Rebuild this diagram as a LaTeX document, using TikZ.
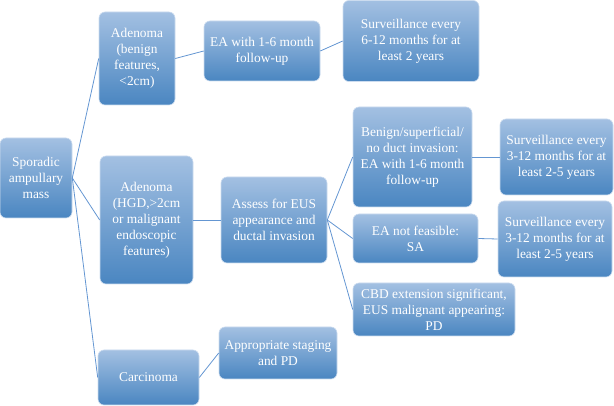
\documentclass[tikz,border=0pt]{standalone}
\usepackage{fontspec}
\setmainfont{Liberation Serif}
\definecolor{boxtop}{HTML}{A3C0E2}
\definecolor{boxbot}{HTML}{4A86C1}
\definecolor{linkblue}{HTML}{6496D2}
\tikzset{
  box/.style={rounded corners=6pt, top color=boxtop, bottom color=boxbot,
    draw=boxtop!55!white, line width=.6pt, text=white, align=center,
    inner sep=2pt, font=\fontsize{13.4}{16}\selectfont},
  link/.style={draw=linkblue, line width=.8pt}
}
\begin{document}
\begin{tikzpicture}[x=1pt,y=-1pt]
\useasboundingbox (0,0) rectangle (614,406);
% first column
\node[box, minimum width=72pt, minimum height=80pt] (spor) at (36,178)
  {Sporadic\\ampullary\\mass};
% second column
\node[box, minimum width=76pt, minimum height=93pt] (adenb) at (137,58.5)
  {Adenoma\\(benign\\features,\\<2cm)};
\node[box, minimum width=93pt, minimum height=128pt] (adenm) at (146.5,220)
  {Adenoma\\(HGD,>2cm\\or malignant\\endoscopic\\features)};
\node[box, minimum width=101pt, minimum height=55pt] (carc) at (148.5,377.5)
  {Carcinoma};
% third column
\node[box, minimum width=116pt, minimum height=60pt] (eaf) at (262,51)
  {EA with 1-6 month\\follow-up};
\node[box, minimum width=106pt, minimum height=86pt] (assess) at (274,220)
  {Assess for EUS\\appearance and\\ductal invasion};
\node[box, minimum width=118pt, minimum height=52pt] (stage) at (278,353)
  {Appropriate staging\\and PD};
% fourth column
\node[box, minimum width=136pt, minimum height=81pt] (survA) at (411,41)
  {Surveillance every\\6-12 months for at\\least 2 years};
\node[box, minimum width=119pt, minimum height=100pt] (benign) at (412.5,157)
  {Benign/superficial/\\no duct invasion:\\EA with 1-6 month\\follow-up};
\node[box, minimum width=125pt, minimum height=49pt] (nofeas) at (415.5,238.5)
  {EA not feasible:\\SA};
\node[box, minimum width=162pt, minimum height=53pt] (cbd) at (434,309.5)
  {CBD extension significant,\\EUS malignant appearing:\\PD};
% fifth column
\node[box, minimum width=113pt, minimum height=76pt] (survB) at (556.5,157)
  {Surveillance every\\3-12 months for at\\least 2-5 years};
\node[box, minimum width=114pt, minimum height=76pt] (survC) at (555,239)
  {Surveillance every\\3-12 months for at\\least 2-5 years};
% connectors
\foreach \a/\b in {spor/adenb, spor/adenm, spor/carc, adenb/eaf, eaf/survA,
                   adenm/assess, assess/benign, assess/nofeas, assess/cbd,
                   benign/survB, nofeas/survC, carc/stage}
  \draw[link] (\a.east) -- (\b.west);
\end{tikzpicture}
\end{document}
